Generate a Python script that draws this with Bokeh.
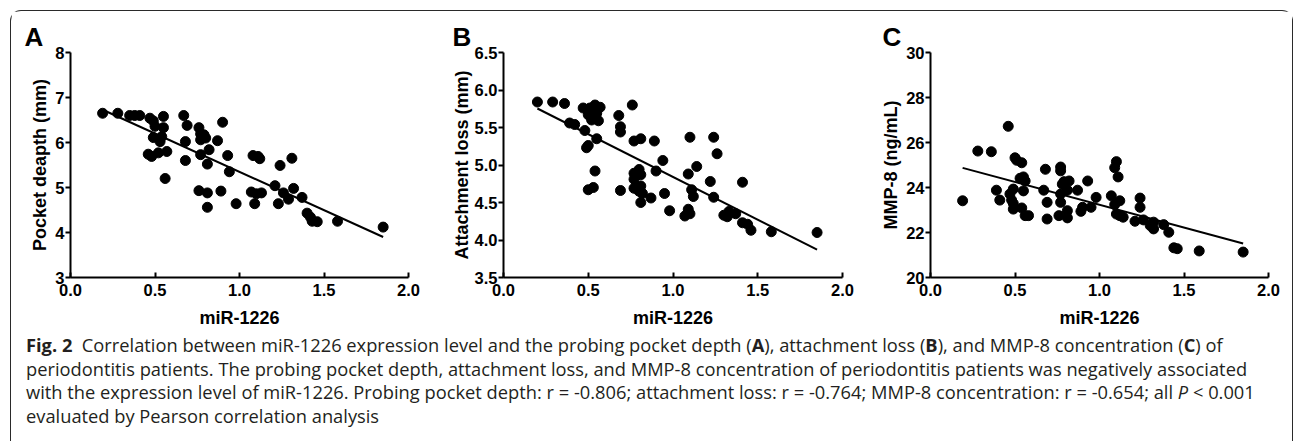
import numpy as np
from bokeh.plotting import figure
from bokeh.models import Range1d, FixedTicker, PrintfTickFormatter, Div
from bokeh.layouts import row, column
from bokeh.embed import file_html
from bokeh.resources import INLINE

# ---------------- data ----------------
x_label = "miR-1226"
x_ticks = [0.0, 0.5, 1.0, 1.5, 2.0]

# Panel A: pocket depth (mm)
xA = [0.19, 0.28, 0.35, 0.38, 0.41, 0.47, 0.49, 0.55, 0.50, 0.55,
      0.49, 0.54, 0.53, 0.46, 0.48, 0.52, 0.57, 0.56, 0.67, 0.69,
      0.68, 0.68, 0.76, 0.77, 0.79, 0.77, 0.80, 0.77, 0.82, 0.81,
      0.76, 0.81, 0.81, 0.87, 0.90, 0.93, 0.94, 0.89, 0.98, 1.08,
      1.11, 1.12, 1.07, 1.10, 1.13, 1.09, 1.21, 1.24, 1.31, 1.26,
      1.32, 1.23, 1.29, 1.37, 1.40, 1.42, 1.43, 1.46, 1.58, 1.85]
yA = [6.65, 6.65, 6.60, 6.60, 6.60, 6.54, 6.48, 6.58, 6.36, 6.33,
      6.11, 6.13, 6.02, 5.74, 5.69, 5.77, 5.80, 5.20, 6.60, 6.38,
      6.02, 5.60, 6.33, 6.19, 6.17, 6.06, 6.10, 5.73, 5.84, 5.52,
      4.93, 4.88, 4.56, 6.04, 6.45, 5.71, 5.35, 4.92, 4.64, 5.71,
      5.69, 5.64, 4.90, 4.86, 4.88, 4.64, 5.04, 5.49, 5.65, 4.88,
      4.98, 4.64, 4.74, 4.78, 4.43, 4.34, 4.25, 4.24, 4.25, 4.12]
yA_ticks = [3, 4, 5, 6, 7, 8]
yA_label = "Pocket deapth (mm)"

# Panel B: attachment loss (mm)
xB = [0.20, 0.29, 0.36, 0.39, 0.42, 0.47, 0.50, 0.48, 0.50, 0.49,
      0.54, 0.57, 0.51, 0.52, 0.56, 0.55, 0.54, 0.50, 0.53, 0.55,
      0.76, 0.68, 0.69, 0.69, 0.69, 0.77, 0.81, 0.77, 0.80, 0.81,
      0.77, 0.77, 0.81, 0.80, 0.82, 0.81, 0.87, 0.89, 0.90, 0.94,
      0.95, 0.98, 1.10, 1.09, 1.14, 1.11, 1.12, 1.09, 1.10, 1.07,
      1.22, 1.24, 1.26, 1.24, 1.30, 1.32, 1.33, 1.37, 1.41, 1.41,
      1.44, 1.46, 1.58, 1.85]
yB = [5.84, 5.84, 5.82, 5.56, 5.54, 5.76, 5.67, 5.46, 5.26, 5.23,
      5.80, 5.77, 5.76, 5.60, 5.59, 5.35, 4.92, 4.67, 4.70, 5.69,
      5.80, 5.66, 5.51, 5.44, 4.66, 5.32, 5.35, 4.89, 4.94, 4.87,
      4.81, 4.69, 4.72, 4.65, 4.62, 4.50, 4.56, 5.32, 4.92, 5.06,
      4.62, 4.39, 5.37, 4.88, 4.98, 4.67, 4.58, 4.41, 4.35, 4.32,
      4.78, 5.37, 5.15, 4.57, 4.33, 4.31, 4.38, 4.35, 4.77, 4.23,
      4.21, 4.13, 4.11, 4.10]
yB_ticks = [3.5, 4.0, 4.5, 5.0, 5.5, 6.0, 6.5]
yB_label = "Attachment loss (mm)"

# Panel C: MMP-8 (ng/mL)
xC = [0.19, 0.28, 0.36, 0.39, 0.41, 0.46, 0.50, 0.51, 0.54, 0.47,
      0.49, 0.48, 0.49, 0.49, 0.53, 0.55, 0.56, 0.55, 0.54, 0.56,
      0.58, 0.68, 0.67, 0.69, 0.69, 0.77, 0.77, 0.78, 0.77, 0.77,
      0.79, 0.81, 0.82, 0.76, 0.81, 0.81, 0.87, 0.89, 0.90, 0.93,
      0.95, 0.98, 1.07, 1.10, 1.09, 1.11, 1.09, 1.12, 1.10, 1.12,
      1.14, 1.24, 1.24, 1.21, 1.26, 1.30, 1.32, 1.32, 1.38, 1.41,
      1.44, 1.46, 1.59, 1.85]
yC = [23.41, 25.62, 25.59, 23.88, 23.44, 26.72, 25.32, 25.21, 25.10, 23.71,
      23.93, 23.44, 23.29, 23.04, 24.41, 24.47, 24.29, 23.85, 23.09, 22.75,
      22.75, 24.81, 23.88, 23.34, 22.60, 24.91, 24.74, 24.15, 23.71, 23.34,
      24.26, 23.88, 24.29, 22.75, 22.97, 22.65, 23.88, 22.94, 23.12, 24.29,
      23.12, 23.56, 23.63, 25.15, 24.88, 24.47, 23.24, 23.41, 22.82, 22.75,
      22.68, 23.53, 23.12, 22.50, 22.56, 22.31, 22.16, 22.46, 22.35, 22.01,
      21.32, 21.28, 21.18, 21.13]
yC_ticks = [20, 22, 24, 26, 28, 30]
yC_label = "MMP-8 (ng/mL)"

caption_html = (
    "<b>Fig. 2</b>&nbsp;&nbsp;Correlation between miR-1226 expression level and the probing pocket depth "
    "(<b>A</b>), attachment loss (<b>B</b>), and MMP-8 concentration (<b>C</b>) of<br>"
    "periodontitis patients. The probing pocket depth, attachment loss, and MMP-8 concentration of "
    "periodontitis patients was negatively associated<br>"
    "with the expression level of miR-1226. Probing pocket depth: r = -0.806; attachment loss: r = -0.764; "
    "MMP-8 concentration: r = -0.654; all <i>P</i> &lt; 0.001<br>"
    "evaluated by Pearson correlation analysis"
)

FONT = "Liberation Sans"


def panel(x, y, yr, yticks, yfmt, ylabel, letter, width, ml, mr, letter_offset, ylab_standoff):
    p = figure(width=width, height=322, x_range=Range1d(0, 2), y_range=Range1d(*yr),
               output_backend="svg", toolbar_location=None,
               min_border_left=ml, min_border_right=mr, min_border_top=41, min_border_bottom=56)
    p.outline_line_color = None
    p.grid.visible = False
    p.background_fill_color = "white"
    p.border_fill_color = "white"

    p.title.text = letter
    p.title.align = "left"
    p.title.offset = letter_offset
    p.title.standoff = 2
    p.title.text_font = FONT
    p.title.text_font_style = "bold"
    p.title.text_font_size = "26px"
    p.title.text_color = "black"

    xa = p.xaxis[0]
    xa.ticker = FixedTicker(ticks=x_ticks)
    xa.formatter = PrintfTickFormatter(format="%.1f")
    xa.axis_label = x_label
    ya = p.yaxis[0]
    ya.ticker = FixedTicker(ticks=yticks)
    ya.formatter = PrintfTickFormatter(format=yfmt)
    ya.axis_label = ylabel
    for ax in (xa, ya):
        ax.axis_line_width = 2
        ax.axis_line_color = "black"
        ax.major_tick_line_width = 2
        ax.major_tick_line_color = "black"
        ax.minor_tick_line_color = None
        ax.major_label_text_font = FONT
        ax.major_label_text_font_style = "bold"
        ax.major_label_text_font_size = "16.5px"
        ax.major_label_text_color = "black"
        ax.axis_label_text_font = FONT
        ax.axis_label_text_font_style = "bold"
        ax.axis_label_text_font_size = "18px"
        ax.axis_label_text_color = "black"
    xa.major_tick_in = 5
    xa.major_tick_out = 0
    xa.major_label_standoff = 6
    xa.axis_label_standoff = 9
    ya.major_tick_in = 0
    ya.major_tick_out = 5
    ya.major_label_standoff = 1
    ya.axis_label_standoff = ylab_standoff

    p.scatter(x, y, size=10, color="black")
    coef = np.polyfit(x, y, 1)
    xs = np.array([min(x), max(x)])
    p.line(xs, np.polyval(coef, xs), line_width=2, color="black")
    return p


pA = panel(xA, yA, (3, 8), yA_ticks, "%d", yA_label, "A", 430, 59, 33, -46, 2)
pB = panel(xB, yB, (3.5, 6.5), yB_ticks, "%.1f", yB_label, "B", 430, 62, 29, -51, 0)
pC = panel(xC, yC, (20, 30), yC_ticks, "%d", yC_label, "C", 421, 59, 24, -48, 2)

cap = Div(text='<div style="font-family:\'Open Sans\';font-size:18.3px;line-height:23.5px;'
               'padding-left:15px;white-space:nowrap;color:#231f20">' + caption_html + '</div>',
          width=1281, height=108, margin=0)

layout = column(row(pA, pB, pC), cap, margin=(10, 0, 0, 10),
                styles={"border": "1px solid #2a2a2a", "border-bottom": "none",
                        "border-radius": "11px 11px 0 0", "background": "white"})

open("out.html", "w").write(file_html(layout, INLINE))
